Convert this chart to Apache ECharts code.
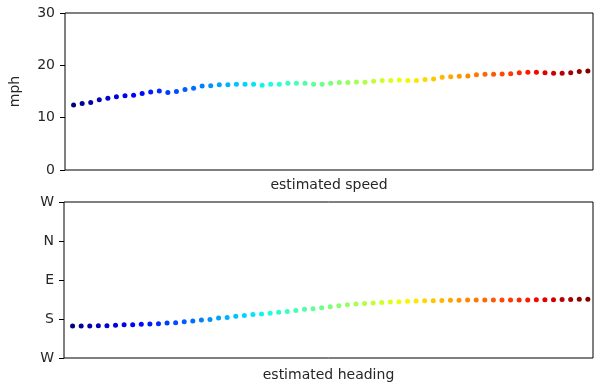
<!DOCTYPE html>
<html><head><meta charset="utf-8">
<script src="https://cdn.jsdelivr.net/npm/echarts@6/dist/echarts.min.js"></script>
<style>html,body{margin:0;padding:0;background:#fff}#c{width:595px;height:385px}</style>
</head><body><div id="c"></div><script>
// estimated speed (mph), one value per sample
const speedMph = [12.4,12.7,12.9,13.4,13.7,14.0,14.2,14.3,14.6,14.9,
  15.1,14.8,15.0,15.4,15.6,16.05,16.1,16.3,16.3,16.4,
  16.4,16.4,16.2,16.4,16.4,16.6,16.6,16.6,16.4,16.4,
  16.6,16.7,16.7,16.8,16.75,16.95,17.1,17.1,17.2,17.1,
  17.1,17.3,17.4,17.7,17.8,17.9,17.96,18.2,18.3,18.3,
  18.35,18.4,18.6,18.7,18.7,18.6,18.5,18.5,18.6,18.8,18.9];
// estimated heading in quarter-turn units (0=W, 1=S, 2=E, 3=N, 4=W)
const headingUnits = [0.82,0.82,0.82,0.83,0.83,0.84,0.85,0.855,0.865,0.87,
  0.88,0.895,0.905,0.93,0.95,0.975,0.99,1.025,1.04,1.07,
  1.09,1.115,1.13,1.145,1.17,1.195,1.22,1.25,1.265,1.29,
  1.315,1.34,1.365,1.385,1.40,1.41,1.42,1.435,1.445,1.455,
  1.46,1.465,1.47,1.475,1.48,1.48,1.485,1.485,1.485,1.49,
  1.49,1.49,1.49,1.49,1.495,1.495,1.495,1.50,1.50,1.505,1.505];
const speedTicks = [0,10,20,30];
const headingTickLabels = ['W','S','E','N','W'];
const speedTitle = 'estimated speed';
const headingTitle = 'estimated heading';
const speedUnit = 'mph';

function interp(pts, t){
  for (let i=1;i<pts.length;i++){
    if (t <= pts[i][0]) {
      const a=pts[i-1], b=pts[i];
      return a[1] + (b[1]-a[1])*(t-a[0])/(b[0]-a[0]);
    }
  }
  return pts[pts.length-1][1];
}
function jet(t){
  const r = interp([[0,0],[0.35,0],[0.66,1],[0.89,1],[1,0.5]], t);
  const g = interp([[0,0],[0.125,0],[0.375,1],[0.64,1],[0.91,0],[1,0]], t);
  const b = interp([[0,0.5],[0.11,1],[0.34,1],[0.65,0],[1,0]], t);
  return 'rgb(' + Math.round(r*255) + ',' + Math.round(g*255) + ',' + Math.round(b*255) + ')';
}
const n = speedMph.length;
const colorFn = p => jet(p.dataIndex/(n-1));
const font = 'DejaVu Sans';
const txt = '#262626';

const chart = echarts.init(document.getElementById('c'), null, {renderer:'canvas'});
const gridBase = {left:64, width:529, show:true, borderColor:'#000', borderWidth:1, backgroundColor:'transparent'};
const xBase = {type:'value', min:-1, max:60.6, axisLine:{show:false, onZero:false}, axisTick:{show:false},
  axisLabel:{show:false}, splitLine:{show:false}, nameLocation:'middle',
  nameTextStyle:{fontFamily:font, fontSize:14, color:txt, verticalAlign:'top'}};
chart.setOption({
  animation:false,
  grid:[Object.assign({top:13, height:157}, gridBase), Object.assign({top:202, height:156}, gridBase)],
  xAxis:[Object.assign({gridIndex:0, name:speedTitle, nameGap:8}, xBase),
         Object.assign({gridIndex:1, name:headingTitle, nameGap:10}, xBase)],
  yAxis:[
    {gridIndex:0, type:'value', min:speedTicks[0], max:speedTicks[speedTicks.length-1], interval:10,
     name:speedUnit, nameLocation:'middle', nameGap:43, nameRotate:90,
     nameTextStyle:{fontFamily:font, fontSize:14, color:txt},
     axisLine:{show:false, onZero:false}, axisTick:{show:true, length:5, lineStyle:{color:'#000'}},
     axisLabel:{margin:10, fontFamily:font, fontSize:14, color:txt}, splitLine:{show:false}},
    {gridIndex:1, type:'value', min:0, max:headingTickLabels.length-1, interval:1,
     axisLine:{show:false, onZero:false}, axisTick:{show:true, length:5, lineStyle:{color:'#000'}},
     axisLabel:{margin:10, fontFamily:font, fontSize:14, color:txt, formatter:v => headingTickLabels[v]},
     splitLine:{show:false}}
  ],
  series:[
    {type:'scatter', xAxisIndex:0, yAxisIndex:0, symbolSize:5, data:speedMph.map((v,i)=>[i,v]),
     itemStyle:{color:colorFn, opacity:1}},
    {type:'scatter', xAxisIndex:1, yAxisIndex:1, symbolSize:5, data:headingUnits.map((v,i)=>[i,v]),
     itemStyle:{color:colorFn, opacity:1}}
  ]
});
</script></body></html>
